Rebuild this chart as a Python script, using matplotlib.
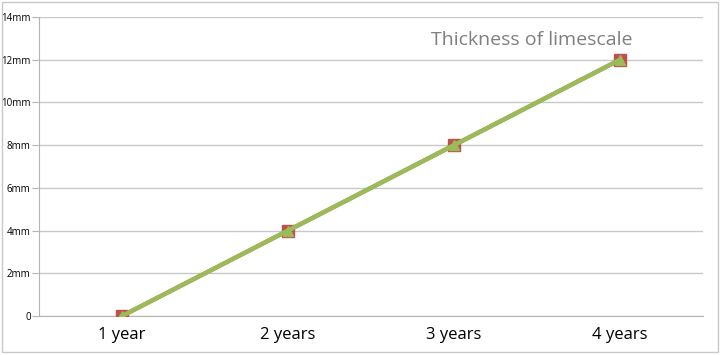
import matplotlib.pyplot as plt
from matplotlib.patches import Rectangle
import numpy as np

categories = ['1 year', '2 years', '3 years', '4 years']
thickness_mm = [0, 4, 8, 12]
y_ticks = [0, 2, 4, 6, 8, 10, 12, 14]
y_labels = ['0', '2mm', '4mm', '6mm', '8mm', '10mm', '12mm', '14mm']

plt.rcParams['font.family'] = ['Open Sans', 'DejaVu Sans']

fig = plt.figure(figsize=(7.21, 3.55), dpi=100)
ax = fig.add_axes([39 / 721, 1 - 316 / 355, 664 / 721, 299 / 355])

x = np.arange(len(categories))
# red series sits underneath, green series with triangles on top
ax.plot(x, thickness_mm, color='#C0504D', linewidth=3, marker='s', markersize=9,
        markeredgecolor='#C0504D', zorder=3)
ax.plot(x, thickness_mm, color='#9BBB59', linewidth=3.2, marker='^', markersize=7,
        markeredgecolor='#9BBB59', zorder=4)

ax.set_xlim(-0.5, len(categories) - 0.5)
ax.set_ylim(0, 14)
ax.set_yticks(y_ticks)
ax.set_yticklabels(y_labels, fontsize=7)
ax.set_xticks(x)
ax.set_xticklabels(categories, fontsize=12)
ax.grid(axis='y', color='#c8c8c8', linewidth=1)
ax.set_axisbelow(True)
for s in ['top', 'right']:
    ax.spines[s].set_visible(False)
ax.spines['left'].set_color('#b4b4b4')
ax.spines['bottom'].set_color('#b4b4b4')
ax.tick_params(axis='y', length=5, color='#b4b4b4', pad=1)
ax.tick_params(axis='x', length=0, pad=8)

fig.text(532 / 721, 1 - 40 / 355, 'Thickness of limescale', fontsize=14,
         color='#7f7f7f', ha='center', va='center')

fig.patches.append(Rectangle((2 / 721, 3 / 355), 716 / 721, 350 / 355,
                             transform=fig.transFigure, fill=False,
                             edgecolor='#c8c8c8', linewidth=1))

fig.savefig('out.png', dpi=100)
